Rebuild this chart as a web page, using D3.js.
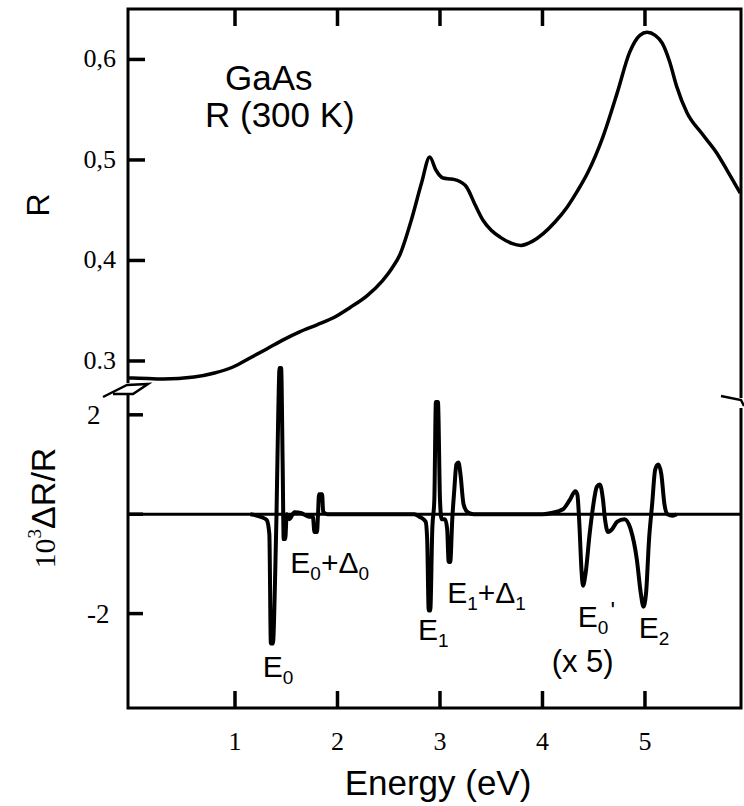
<!DOCTYPE html>
<html>
<head>
<meta charset="utf-8">
<script src="https://cdn.jsdelivr.net/npm/d3@7"></script>
<style>
  body { margin: 0; background: #fff; color: #000; }
  text { fill: #000; }
  .sans { font-family: 'Liberation Sans', Arial, sans-serif; }
  .serif { font-family: 'Liberation Serif', 'Times New Roman', serif; }
</style>
</head>
<body>
<div id="chart"></div>
<script>
// reflectance R (top panel)
var energyR = [-0.04, 0.0, 0.3, 0.6, 0.8, 0.98, 1.146, 1.31, 1.47, 1.63, 1.80, 1.96, 2.12, 2.29, 2.44, 2.53,
  2.61, 2.72, 2.82, 2.90, 2.96, 3.03, 3.11, 3.16, 3.26, 3.34, 3.42, 3.5, 3.59, 3.7, 3.79, 3.9, 4.01,
  4.12, 4.24, 4.34, 4.44, 4.59, 4.73, 4.85, 4.95, 5.02, 5.1, 5.17, 5.24, 5.31, 5.41, 5.55, 5.70, 5.80, 5.93]
var reflectance = [0.283, 0.283, 0.282, 0.284, 0.288, 0.294, 0.303, 0.312, 0.321, 0.329, 0.336, 0.343, 0.353,
  0.365, 0.380, 0.392, 0.406, 0.440, 0.477, 0.503, 0.490, 0.482, 0.481, 0.480, 0.473, 0.456, 0.440, 0.430,
  0.423, 0.417, 0.415, 0.419, 0.427, 0.438, 0.453, 0.469, 0.487, 0.523, 0.567, 0.607, 0.624, 0.627, 0.624,
  0.616, 0.598, 0.573, 0.547, 0.527, 0.507, 0.490, 0.467]

// modulated reflectance 10^3 dR/R (bottom panel)
var energyD = [1.15, 1.26, 1.31, 1.335, 1.35, 1.37, 1.39, 1.405, 1.42, 1.435, 1.45, 1.465, 1.475, 1.49, 1.505,
  1.53, 1.58, 1.65, 1.72, 1.76, 1.775, 1.80, 1.81, 1.82, 1.85, 1.86, 1.90,
  2.75, 2.80, 2.86, 2.875, 2.89, 2.905, 2.925, 2.945, 2.96, 2.98, 3.0, 3.015, 3.05, 3.07, 3.085, 3.10,
  3.12, 3.14, 3.16, 3.18, 3.20, 3.23, 3.27, 3.33,
  4.0, 4.10, 4.20, 4.27, 4.32, 4.34, 4.36, 4.38, 4.395, 4.42, 4.46, 4.49, 4.53, 4.56, 4.59, 4.61, 4.64,
  4.68, 4.73, 4.80, 4.86, 4.92, 4.96, 4.985, 5.01, 5.04, 5.07, 5.10, 5.13, 5.16, 5.19, 5.22, 5.27, 5.31]
var deltaR = [0, -0.06, -0.12, -0.4, -2.6, -2.6, -1.4, 0, 1.8, 2.94, 2.94, 1.0, -0.5, -0.5, 0,
  -0.1, 0.04, 0.02, -0.05, -0.05, -0.36, -0.36, 0, 0.4, 0.4, 0.05, 0,
  0, -0.05, -0.15, -0.5, -1.94, -1.94, -0.3, 0.3, 2.26, 2.26, 0.3, -0.1, -0.1, -0.3, -0.96, -0.96,
  -0.1, 0.5, 1.0, 1.04, 0.8, 0.2, 0.04, 0,
  0, 0.03, 0.1, 0.3, 0.46, 0.4, -0.2, -1.1, -1.44, -1.2, -0.4, 0.1, 0.55, 0.6, 0.3, -0.1, -0.36,
  -0.3, -0.15, -0.1, -0.3, -0.9, -1.6, -1.86, -1.6, -0.5, 0.2, 0.9, 1.0, 0.8, 0.2, 0, -0.03, 0]

var xTicks = [1, 2, 3, 4, 5]
var rTicks = [0.3, 0.4, 0.5, 0.6]
var rTickLabels = ['0.3', '0,4', '0,5', '0,6']
var dTicks = [-2, 0, 2]
var dTickLabels = ['-2', '', '2']

// transition labels, anchored in data units (energy, dR/R)
var peakNames = ['E0', 'E0+Δ0', 'E1', 'E1+Δ1', "E0'", 'E2']
var peakE = [1.27, 1.54, 2.785, 3.07, 4.345, 4.94]
var peakV = [-3.27, -1.19, -2.53, -1.79, -2.27, -2.49]

var width = 744
var height = 806

var svg = d3
  .select('#chart')
  .append('svg')
  .attr('width', width)
  .attr('height', height)
  .style('background', '#fff')

var mLeft = 128, mRight = 741, mTop = 9, mBottom = 708, mSplit = 385
var tickLen = 17

var x = d3.scaleLinear().domain([-0.044, 5.937]).range([mLeft, mRight])
var yR = d3.scaleLinear().domain([0.2761, 0.6502]).range([mSplit, mTop])
var yD = d3.scaleLinear().domain([-3.9, 2.6]).range([mBottom, mSplit])

// frame, broken at the panel split
svg.append('path')
  .attr('d', 'M' + mLeft + ',383 V' + mTop + ' H' + mRight + ' V398')
  .attr('fill', 'none').attr('stroke', '#000').attr('stroke-width', 3)
svg.append('path')
  .attr('d', 'M' + mLeft + ',394 V' + mBottom + ' H' + mRight + ' V408')
  .attr('fill', 'none').attr('stroke', '#000').attr('stroke-width', 3)

// axis break marks
svg.append('path')
  .attr('d', 'M103,397 L127,385 L148,384 L133,394 L113,394')
  .attr('fill', 'none').attr('stroke', '#000').attr('stroke-width', 2.5)
svg.append('path')
  .attr('d', 'M721,396 L741,400 L744,406')
  .attr('fill', 'none').attr('stroke', '#000').attr('stroke-width', 2.5)

// tick labels
svg.selectAll('text.xl')
  .data(xTicks)
  .enter().append('text')
  .attr('class', 'xl serif')
  .attr('x', d => x(d))
  .attr('y', 750)
  .attr('text-anchor', 'middle')
  .style('font-size', '26px')
  .text(d => d)

svg.selectAll('text.rl')
  .data(rTicks)
  .enter().append('text')
  .attr('class', 'rl serif')
  .attr('x', mLeft - 12)
  .attr('y', d => yR(d) + 8)
  .attr('text-anchor', 'end')
  .style('font-size', '26px')
  .text((d, i) => rTickLabels[i])

svg.selectAll('text.dl')
  .data(dTicks.filter((d, i) => dTickLabels[i] !== ''))
  .enter().append('text')
  .attr('class', 'dl serif')
  .attr('x', 87)
  .attr('y', d => yD(d) + 9)
  .style('font-size', '27px')
  .text(d => dTickLabels[dTicks.indexOf(d)])

// zero line of the bottom panel
svg.append('line')
  .attr('x1', mLeft)
  .attr('x2', mRight)
  .attr('y1', yD(0))
  .attr('y2', yD(0))
  .attr('stroke', '#000')
  .attr('stroke-width', 3)

// R spectrum
var lineR = d3.line()
  .x(d => x(d[0]))
  .y(d => yR(d[1]))
  .curve(d3.curveMonotoneX)

svg.append('path')
  .datum(d3.zip(energyR, reflectance))
  .attr('d', lineR)
  .attr('fill', 'none')
  .attr('stroke', '#000')
  .attr('stroke-width', 3.5)

// dR/R spectrum
var lineD = d3.line()
  .x(d => x(d[0]))
  .y(d => yD(d[1]))
  .curve(d3.curveMonotoneX)

svg.append('path')
  .datum(d3.zip(energyD, deltaR))
  .attr('d', lineD)
  .attr('fill', 'none')
  .attr('stroke', '#000')
  .attr('stroke-width', 4)
  .attr('stroke-linejoin', 'round')

// peak labels: main letter, subscript, operators, prime
peakNames.forEach((name, i) => {
  var t = svg.append('text')
    .attr('class', 'sans')
    .attr('x', x(peakE[i]))
    .attr('y', yD(peakV[i]))
    .style('font-size', '30px')
  var parts = name.match(/[EΔ]\d|\+|'/g)
  var shifted = false
  parts.forEach(p => {
    if (p === '+') {
      t.append('tspan').attr('dy', shifted ? -7 : 0).text('+')
      shifted = false
    } else if (p === "'") {
      t.append('tspan').attr('dy', -15).attr('dx', 2).style('font-size', '24px').text("'")
    } else {
      t.append('tspan').attr('dy', shifted ? -7 : 0).text(p[0])
      t.append('tspan').attr('dy', 7).style('font-size', '19px').text(p[1])
      shifted = true
    }
  })
})

svg.append('text')
  .attr('class', 'sans')
  .attr('x', x(4.09))
  .attr('y', yD(-3.18))
  .style('font-size', '31px')
  .text('(x 5)')

// panel title
svg.append('text')
  .attr('class', 'sans')
  .attr('x', 225)
  .attr('y', 90)
  .style('font-size', '35px')
  .text('GaAs')

svg.append('text')
  .attr('class', 'sans')
  .attr('x', 205)
  .attr('y', 127)
  .style('font-size', '35px')
  .text('R (300 K)')

// axis titles
svg.append('text')
  .attr('class', 'sans')
  .attr('x', 438)
  .attr('y', 795)
  .attr('text-anchor', 'middle')
  .style('font-size', '35px')
  .text('Energy (eV)')

svg.append('text')
  .attr('class', 'sans')
  .attr('transform', 'translate(49,205) rotate(-90)')
  .attr('text-anchor', 'middle')
  .style('font-size', '32px')
  .text('R')

var yl = svg.append('text')
  .attr('class', 'sans')
  .attr('transform', 'translate(55,508) rotate(-90)')
  .attr('text-anchor', 'middle')
  .style('font-size', '34px')
yl.append('tspan').attr('class', 'serif').style('font-size', '30px').text('10')
yl.append('tspan').attr('class', 'serif').attr('dy', -14).style('font-size', '19px').text('3')
yl.append('tspan').attr('dy', 14).text('ΔR/R')

// inward tick marks, drawn last so nothing sits on top of them
var tickSegs = []
xTicks.forEach(d => {
  tickSegs.push([x(d), mTop, x(d), mTop + tickLen])
  tickSegs.push([x(d), mBottom, x(d), mBottom - tickLen])
})
rTicks.forEach(d => tickSegs.push([mLeft, yR(d), mLeft + tickLen, yR(d)]))
dTicks.forEach(d => tickSegs.push([mLeft, yD(d), mLeft + tickLen - 2, yD(d)]))

svg.append('g')
  .attr('class', 'tick-marks')
  .selectAll('path')
  .data(tickSegs)
  .enter().append('path')
  .attr('d', s => 'M' + s[0] + ',' + s[1] + 'L' + s[2] + ',' + s[3])
  .attr('fill', 'none')
  .attr('stroke', '#000')
  .attr('stroke-width', 3.5)
  .attr('stroke-linecap', 'butt')
</script>
</body>
</html>
